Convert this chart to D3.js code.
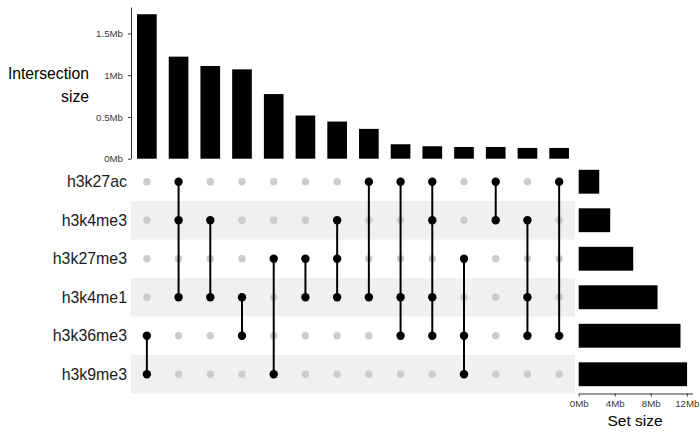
<!DOCTYPE html>
<html><head><meta charset="utf-8">
<script src="https://cdn.jsdelivr.net/npm/d3@7"></script>
<style>
body{margin:0;background:#fff;}
text{font-family:"Liberation Sans",Arial,sans-serif;}
</style></head>
<body><svg id="c" width="700" height="432"></svg>
<script>
const sets = ["h3k27ac","h3k4me3","h3k27me3","h3k4me1","h3k36me3","h3k9me3"];
const setSizes = [2.28, 3.5, 6.05, 8.75, 11.3, 12.03]; // Mb
const intersectionSizes = [1.73, 1.222, 1.11, 1.07, 0.774, 0.517, 0.445, 0.357, 0.173, 0.149, 0.14, 0.14, 0.129, 0.129]; // Mb
const intersectionMembers = [
  ["h3k36me3","h3k9me3"],
  ["h3k27ac","h3k4me3","h3k4me1"],
  ["h3k4me3","h3k4me1"],
  ["h3k4me1","h3k36me3"],
  ["h3k27me3","h3k9me3"],
  ["h3k27me3","h3k4me1"],
  ["h3k4me3","h3k27me3","h3k4me1"],
  ["h3k27ac","h3k4me1"],
  ["h3k27ac","h3k4me1","h3k36me3"],
  ["h3k27ac","h3k4me3","h3k4me1","h3k36me3"],
  ["h3k27me3","h3k36me3","h3k9me3"],
  ["h3k27ac","h3k4me3"],
  ["h3k4me3","h3k4me1","h3k36me3"],
  ["h3k27ac","h3k36me3"]
];
const intersectionTicks = [0, 0.5, 1, 1.5];
const setSizeTicks = [0, 4, 8, 12];

const svg = d3.select("#c");
const idx = d3.range(intersectionSizes.length);

const x = d3.scaleBand().domain(idx).range([131, 575]).paddingInner(0.38).paddingOuter(0.19);
const y = d3.scaleLinear().domain([0, d3.max(intersectionSizes) * 1.05]).range([158.7, 7]);
const rowBand = d3.scaleBand().domain(sets).range([162.5, 393.5]);
const rowBar = d3.scaleBand().domain(sets).range([162.5, 393.5]).paddingInner(0.38).paddingOuter(0.19);
const sx = d3.scaleLinear().domain([0, d3.max(setSizes) * 1.05]).range([578.7, 692.5]);

const fmt = v => (v === 0 ? "0" : String(v)) + "Mb";

// Intersection bars
svg.append("g").selectAll("rect").data(idx).join("rect")
  .attr("x", i => x(i)).attr("width", x.bandwidth())
  .attr("y", i => y(intersectionSizes[i]))
  .attr("height", i => y(0) - y(intersectionSizes[i]))
  .attr("fill", "#000");

// Y axis
const ya = svg.append("g").attr("transform", "translate(131,0)")
  .call(d3.axisLeft(y).tickValues(intersectionTicks).tickFormat(fmt).tickSize(3).tickSizeOuter(0));
ya.select(".domain").attr("stroke", "#333");
ya.selectAll(".tick line").attr("stroke", "#333");
ya.selectAll(".tick text").attr("font-size", "9.7px").attr("fill", "#3a3a3a")
  .attr("font-family", "'Liberation Sans',Arial,sans-serif").attr("x", -8);

svg.append("text").attr("x", 89).attr("y", 73).attr("text-anchor", "end")
  .attr("dominant-baseline", "central").attr("font-size", "15.7px").text("Intersection");
svg.append("text").attr("x", 89).attr("y", 96).attr("text-anchor", "end")
  .attr("dominant-baseline", "central").attr("font-size", "15.7px").text("size");

// Matrix stripes
svg.append("g").selectAll("rect").data(sets.filter((s, i) => i % 2 === 1)).join("rect")
  .attr("x", 131).attr("width", 575 - 131)
  .attr("y", s => rowBand(s)).attr("height", rowBand.bandwidth())
  .attr("fill", "#f0f0f0");

const cy = s => rowBand(s) + rowBand.bandwidth() / 2;
const cx = i => x(i) + x.bandwidth() / 2;

// Grey dots
const grid = [];
idx.forEach(i => sets.forEach(s => { if (!intersectionMembers[i].includes(s)) grid.push({i, s}); }));
svg.append("g").selectAll("circle").data(grid).join("circle")
  .attr("cx", d => cx(d.i)).attr("cy", d => cy(d.s)).attr("r", 3.7).attr("fill", "#cccccc");

// Lines
svg.append("g").selectAll("line").data(idx).join("line")
  .attr("x1", i => cx(i)).attr("x2", i => cx(i))
  .attr("y1", i => d3.min(intersectionMembers[i], cy))
  .attr("y2", i => d3.max(intersectionMembers[i], cy))
  .attr("stroke", "#000").attr("stroke-width", 2);

// Black dots
const on = [];
idx.forEach(i => intersectionMembers[i].forEach(s => on.push({i, s})));
svg.append("g").selectAll("circle").data(on).join("circle")
  .attr("cx", d => cx(d.i)).attr("cy", d => cy(d.s)).attr("r", 4.2).attr("fill", "#000");

// Set labels
svg.append("g").selectAll("text").data(sets).join("text")
  .attr("x", 127).attr("y", s => cy(s)).attr("text-anchor", "end")
  .attr("dominant-baseline", "central").attr("font-size", "15.9px").attr("fill", "#1a1a1a").text(s => s);

// Set size bars
svg.append("g").selectAll("rect").data(sets).join("rect")
  .attr("x", sx(0)).attr("y", s => rowBar(s)).attr("height", rowBar.bandwidth())
  .attr("width", (s, i) => sx(setSizes[i]) - sx(0)).attr("fill", "#000");

const xa = svg.append("g").attr("transform", "translate(0,393.5)")
  .call(d3.axisBottom(sx).tickValues(setSizeTicks).tickFormat(fmt).tickSize(3).tickSizeOuter(0));
xa.select(".domain").attr("stroke", "#333");
xa.selectAll(".tick line").attr("stroke", "#333");
xa.selectAll(".tick text").attr("font-size", "9.7px").attr("fill", "#3a3a3a")
  .attr("font-family", "'Liberation Sans',Arial,sans-serif").attr("y", 7);

svg.append("text").attr("x", 635).attr("y", 420).attr("text-anchor", "middle")
  .attr("dominant-baseline", "central").attr("font-size", "15.5px").text("Set size");
</script></body></html>
